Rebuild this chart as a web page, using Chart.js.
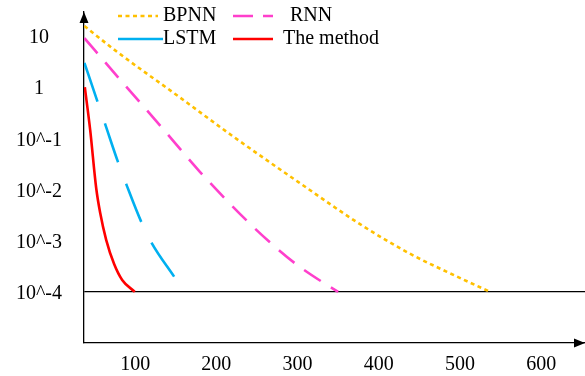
<!DOCTYPE html>
<html>
<head>
<meta charset="utf-8">
<script src="https://cdn.jsdelivr.net/npm/chart.js@4.4.1/dist/chart.umd.min.js"></script>
<style>
  html, body { margin: 0; padding: 0; background: #fff; }
</style>
</head>
<body>
<canvas id="chart" width="585" height="376"></canvas>
<script>
// axis ticks
const xTicks = [100, 200, 300, 400, 500, 600];
const yTicks = [1e-4, 1e-3, 1e-2, 1e-1, 1, 10];
const yTickText = ["10^-4", "10^-3", "10^-2", "10^-1", "1", "10"];

// series
const bpnnX = [37.5, 75, 154, 221, 303, 377, 439, 484, 537];
const bpnnY = [15.7, 5.3, 0.65, 0.108, 0.0133, 0.0021, 5.5e-4, 2.46e-4, 1e-4];

const rnnX = [37.5, 79, 132, 180, 239, 268, 298, 332, 350];
const rnnY = [9.1, 1.56, 0.169, 0.022, 0.00233, 8.7e-4, 3.5e-4, 1.5e-4, 1e-4];

const lstmX = [37.5, 53.2, 62.7, 78.7, 88.9, 107.4, 120.6, 148.4];
const lstmY = [3.0, 0.545, 0.197, 0.035, 0.0129, 0.00236, 8.9e-4, 1.94e-4];

const oursX = [38, 44.6, 52, 56.9, 64.3, 74.1, 84, 99.6];
const oursY = [1.0, 0.146, 0.0107, 0.0035, 0.00104, 3.5e-4, 1.71e-4, 1e-4];

const FONT = { family: "'Liberation Serif', 'Times New Roman', serif", size: 20 };

const pts = (xs, ys) => xs.map((x, i) => ({ x, y: ys[i] }));

function line(label, xs, ys, color, dash, legendDash) {
  return {
    label,
    data: pts(xs, ys),
    borderColor: color,
    backgroundColor: color,
    borderWidth: 2.6,
    borderDash: dash,
    legendDash: legendDash,
    pointRadius: 0,
    fill: false,
    cubicInterpolationMode: "monotone",
  };
}

// legend drawn on the plot, two columns
const legendSpots = [
  { x: 118, len: 40, y: 16, tx: 163 },
  { x: 233, len: 40, y: 16, tx: 290 },
  { x: 118, len: 45, y: 39, tx: 163 },
  { x: 233, len: 40, y: 39, tx: 283 },
];

const overlay = {
  id: "overlay",
  afterDraw(chart) {
    const c = chart.ctx;
    const a = chart.chartArea;
    c.save();
    // arrow heads
    c.fillStyle = "#000";
    c.beginPath();
    c.moveTo(a.left, a.top);
    c.lineTo(a.left - 4.5, a.top + 11);
    c.lineTo(a.left + 4.5, a.top + 11);
    c.closePath();
    c.fill();
    c.beginPath();
    c.moveTo(a.right, a.bottom);
    c.lineTo(a.right - 11, a.bottom - 4.5);
    c.lineTo(a.right - 11, a.bottom + 4.5);
    c.closePath();
    c.fill();

    // legend
    c.font = `${FONT.size}px ${FONT.family}`;
    c.textBaseline = "middle";
    c.textAlign = "left";
    chart.data.datasets.forEach((ds, i) => {
      const s = legendSpots[i];
      c.strokeStyle = ds.borderColor;
      c.lineWidth = ds.borderWidth;
      c.setLineDash(ds.legendDash);
      c.beginPath();
      c.moveTo(s.x, s.y);
      c.lineTo(s.x + s.len, s.y);
      c.stroke();
      c.setLineDash([]);
      c.fillStyle = "#000";
      c.fillText(ds.label, s.tx, s.y);
    });
    c.restore();
  }
};

new Chart(document.getElementById("chart"), {
  type: "line",
  data: {
    datasets: [
      line("BPNN", bpnnX, bpnnY, "#FFC000", [4, 3.5], [4, 3.5]),
      line("RNN", rnnX, rnnY, "#FF3FCC", [20, 12], [20, 10]),
      line("LSTM", lstmX, lstmY, "#00B0F0", [41, 23], []),
      line("The method", oursX, oursY, "#FF0000", [], []),
    ]
  },
  options: {
    responsive: false,
    devicePixelRatio: 1,
    animation: false,
    layout: { padding: { top: 12, left: 0, right: 0, bottom: 0 } },
    plugins: { legend: { display: false }, tooltip: { enabled: false } },
    scales: {
      x: {
        type: "linear",
        min: 37,
        max: 654,
        afterBuildTicks: (s) => { s.ticks = xTicks.map(v => ({ value: v })); },
        afterFit: (s) => {
          s.height = 33;
          s.paddingLeft = 0; s.paddingRight = 0; s.paddingTop = 0; s.paddingBottom = 0;
        },
        grid: { display: false, drawTicks: false },
        border: { color: "#000", width: 1.3 },
        ticks: { color: "#000", font: FONT, padding: 10, maxRotation: 0, autoSkip: false }
      },
      y: {
        type: "logarithmic",
        min: 1e-5,
        max: Math.pow(10, 1.47),
        afterBuildTicks: (s) => { s.ticks = yTicks.map(v => ({ value: v })); },
        afterFit: (s) => {
          s.width = 84;
          s.paddingLeft = 0; s.paddingRight = 0; s.paddingTop = 0; s.paddingBottom = 0;
        },
        grid: {
          drawTicks: false,
          lineWidth: 1.2,
          color: (ctx) => (ctx.tick && ctx.tick.value === 1e-4 ? "#000" : "rgba(0,0,0,0)")
        },
        border: { color: "#000", width: 1.3 },
        ticks: {
          color: "#000",
          font: FONT,
          padding: 22,
          labelOffset: 2,
          crossAlign: "center",
          autoSkip: false,
          callback: (v) => {
            const i = yTicks.indexOf(v);
            return i >= 0 ? yTickText[i] : "";
          }
        }
      }
    }
  },
  plugins: [overlay]
});
</script>
</body>
</html>
